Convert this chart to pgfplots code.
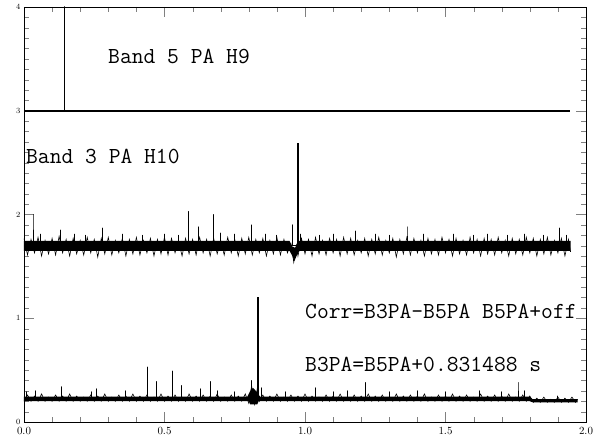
\documentclass[border=0pt]{standalone}
\usepackage{pgfplots}
\pgfplotsset{compat=1.18}
\begin{document}
\begin{tikzpicture}
\begin{axis}[
  scale only axis, width=562bp, height=415bp,
  xmin=0, xmax=2, ymin=0, ymax=4,
  xtick={0,0.5,1,1.5,2},
  ytick={0,1,2,3,4},
  minor x tick num=4, minor y tick num=9,
  tick align=inside, major tick length=10bp, minor tick length=5bp,
  xticklabel style={font=\sffamily\fontsize{10.5}{11}\selectfont, yshift=-2bp, /pgf/number format/.cd, fixed, fixed zerofill, precision=1},
  yticklabel style={font=\sffamily\fontsize{8.5}{9}\selectfont},
]
% ---------- Band 5 PA H9 ----------
\addplot[black, line width=1.6bp, line join=round] coordinates {
(0,3.0) (0.1435,3.0) (0.1435,4.0) (0.1435,3.0) (1.943,3.0)};
% ---------- Band 3 PA H10 : core ----------
\addplot[fill=black, draw=none] coordinates {
(0,1.65) (0.945,1.65) (0.955,1.60) (0.962,1.55) (0.970,1.60) (0.98,1.65) (1.945,1.65)
(1.945,1.745) (0.975,1.745) (0.965,1.68) (0.955,1.69) (0.945,1.745) (0,1.745)};
% ---------- Band 3 PA H10 : noise ----------
\addplot[black, line width=0.6bp] table {
0.0000 1.77
0.0125 1.61
0.0250 1.76
0.0375 1.63
0.0500 1.78
0.0625 1.60
0.0750 1.75
0.0875 1.62
0.1000 1.77
0.1125 1.61
0.1250 1.79
0.1375 1.63
0.1500 1.76
0.1625 1.60
0.1750 1.77
0.1875 1.62
0.2000 1.75
0.2125 1.61
0.2250 1.78
0.2375 1.63
0.2500 1.76
0.2625 1.59
0.2750 1.77
0.2875 1.62
0.3000 1.78
0.3125 1.61
0.3250 1.75
0.3375 1.63
0.3500 1.77
0.3625 1.60
0.3750 1.76
0.3875 1.62
0.4000 1.78
0.4125 1.61
0.4250 1.75
0.4375 1.63
0.4500 1.77
0.4625 1.60
0.4750 1.76
0.4875 1.62
0.5000 1.78
0.5125 1.61
0.5250 1.77
0.5375 1.63
0.5500 1.75
0.5625 1.60
0.5750 1.77
0.5875 1.62
0.6000 1.76
0.6125 1.61
0.6250 1.78
0.6375 1.63
0.6500 1.76
0.6625 1.60
0.6750 1.77
0.6875 1.62
0.7000 1.75
0.7125 1.61
0.7250 1.78
0.7375 1.63
0.7500 1.76
0.7625 1.60
0.7750 1.77
0.7875 1.62
0.8000 1.78
0.8125 1.61
0.8250 1.76
0.8375 1.63
0.8500 1.77
0.8625 1.60
0.8750 1.75
0.8875 1.62
0.9000 1.78
0.9125 1.61
0.9250 1.76
0.9375 1.63
0.9500 1.72
0.9600 1.54
0.9700 1.70
0.9750 1.60
0.9875 1.77
1.0000 1.62
1.0125 1.76
1.0250 1.60
1.0375 1.78
1.0500 1.62
1.0625 1.75
1.0750 1.61
1.0875 1.77
1.1000 1.63
1.1125 1.76
1.1250 1.60
1.1375 1.78
1.1500 1.62
1.1625 1.77
1.1750 1.61
1.1875 1.75
1.2000 1.63
1.2125 1.77
1.2250 1.60
1.2375 1.76
1.2500 1.62
1.2625 1.78
1.2750 1.61
1.2875 1.75
1.3000 1.63
1.3125 1.77
1.3250 1.59
1.3375 1.76
1.3500 1.62
1.3625 1.78
1.3750 1.61
1.3875 1.77
1.4000 1.63
1.4125 1.75
1.4250 1.60
1.4375 1.77
1.4500 1.62
1.4625 1.76
1.4750 1.61
1.4875 1.78
1.5000 1.63
1.5125 1.76
1.5250 1.60
1.5375 1.77
1.5500 1.62
1.5625 1.75
1.5750 1.61
1.5875 1.78
1.6000 1.63
1.6125 1.76
1.6250 1.60
1.6375 1.77
1.6500 1.62
1.6625 1.76
1.6750 1.61
1.6875 1.78
1.7000 1.63
1.7125 1.75
1.7250 1.60
1.7375 1.77
1.7500 1.62
1.7625 1.76
1.7750 1.61
1.7875 1.78
1.8000 1.63
1.8125 1.77
1.8250 1.60
1.8375 1.76
1.8500 1.62
1.8625 1.78
1.8750 1.61
1.8875 1.75
1.9000 1.63
1.9125 1.77
1.9250 1.60
1.9375 1.76
1.9450 1.64
};
% ---------- Band 3 spikes ----------
\addplot[black, line width=0.9bp, line join=round] coordinates {
(0.000,1.70) (0.032,1.70) (0.032,2.00) (0.032,1.70)
(0.060,1.70) (0.060,1.81) (0.060,1.70)
(0.130,1.70) (0.130,1.85) (0.130,1.70)
(0.180,1.70) (0.180,1.81) (0.180,1.70)
(0.220,1.70) (0.220,1.80) (0.220,1.70)
(0.280,1.70) (0.280,1.87) (0.280,1.70)
(0.350,1.70) (0.350,1.81) (0.350,1.70)
(0.420,1.70) (0.420,1.80) (0.420,1.70)
(0.500,1.70) (0.500,1.81) (0.500,1.70)
(0.550,1.70) (0.550,1.80) (0.550,1.70)
(0.587,1.70) (0.587,2.03) (0.587,1.70)
(0.620,1.70) (0.620,1.88) (0.620,1.70)
(0.673,1.70) (0.673,2.00) (0.673,1.70)
(0.700,1.70) (0.700,1.82) (0.700,1.70)
(0.750,1.70) (0.750,1.81) (0.750,1.70)
(0.808,1.70) (0.808,1.90) (0.808,1.70)
(0.860,1.70) (0.860,1.81) (0.860,1.70)
(0.900,1.70) (0.900,1.80) (0.900,1.70)
(0.957,1.70) (0.957,1.90) (0.957,1.70)
(0.985,1.70) (0.985,1.81) (0.985,1.70)
(1.050,1.70) (1.050,1.80) (1.050,1.70)
(1.100,1.70) (1.100,1.81) (1.100,1.70)
(1.180,1.70) (1.180,1.84) (1.180,1.70)
(1.250,1.70) (1.250,1.81) (1.250,1.70)
(1.300,1.70) (1.300,1.80) (1.300,1.70)
(1.363,1.70) (1.363,1.88) (1.363,1.70)
(1.420,1.70) (1.420,1.81) (1.420,1.70)
(1.527,1.70) (1.527,1.81) (1.527,1.70)
(1.600,1.70) (1.600,1.80) (1.600,1.70)
(1.650,1.70) (1.650,1.81) (1.650,1.70)
(1.720,1.70) (1.720,1.80) (1.720,1.70)
(1.780,1.70) (1.780,1.81) (1.780,1.70)
(1.850,1.70) (1.850,1.80) (1.850,1.70)
(1.904,1.70) (1.904,1.87) (1.904,1.70)
(1.930,1.70) (1.930,1.80) (1.930,1.70)
};
\addplot[black, line width=1.5bp] coordinates {(0.975,1.70) (0.975,2.69)};
% ---------- Corr : core ----------
\addplot[fill=black, draw=none] coordinates {
(0,0.20) (0.80,0.20) (0.805,0.17) (0.83,0.17) (0.835,0.20) (1.80,0.20) (1.81,0.19) (1.97,0.19)
(1.97,0.22) (1.81,0.22) (1.80,0.245) (0.84,0.245) (0.825,0.30) (0.815,0.33) (0.805,0.30) (0.795,0.245) (0,0.245)};
% ---------- Corr : noise ----------
\addplot[black, line width=0.6bp] table {
0.0000 0.20
0.0125 0.26
0.0250 0.20
0.0375 0.25
0.0500 0.20
0.0625 0.27
0.0750 0.20
0.0875 0.24
0.1000 0.20
0.1125 0.26
0.1250 0.20
0.1375 0.25
0.1500 0.20
0.1625 0.27
0.1750 0.20
0.1875 0.25
0.2000 0.20
0.2125 0.24
0.2250 0.20
0.2375 0.26
0.2500 0.20
0.2625 0.25
0.2750 0.20
0.2875 0.27
0.3000 0.20
0.3125 0.24
0.3250 0.20
0.3375 0.26
0.3500 0.20
0.3625 0.25
0.3750 0.20
0.3875 0.27
0.4000 0.20
0.4125 0.25
0.4250 0.20
0.4375 0.26
0.4500 0.20
0.4625 0.24
0.4750 0.20
0.4875 0.27
0.5000 0.20
0.5125 0.25
0.5250 0.20
0.5375 0.26
0.5500 0.20
0.5625 0.24
0.5750 0.20
0.5875 0.27
0.6000 0.20
0.6125 0.25
0.6250 0.20
0.6375 0.26
0.6500 0.20
0.6625 0.25
0.6750 0.20
0.6875 0.27
0.7000 0.20
0.7125 0.24
0.7250 0.20
0.7375 0.26
0.7500 0.20
0.7625 0.25
0.7750 0.20
0.7875 0.27
0.8000 0.18
0.8100 0.35
0.8200 0.17
0.8300 0.32
0.8375 0.20
0.8500 0.26
0.8625 0.20
0.8750 0.25
0.8875 0.20
0.9000 0.27
0.9125 0.20
0.9250 0.24
0.9375 0.20
0.9500 0.26
0.9625 0.20
0.9750 0.25
0.9875 0.20
1.0000 0.27
1.0125 0.20
1.0250 0.25
1.0375 0.20
1.0500 0.24
1.0625 0.20
1.0750 0.26
1.0875 0.20
1.1000 0.25
1.1125 0.20
1.1250 0.27
1.1375 0.20
1.1500 0.24
1.1625 0.20
1.1750 0.26
1.1875 0.20
1.2000 0.25
1.2125 0.20
1.2250 0.27
1.2375 0.20
1.2500 0.25
1.2625 0.20
1.2750 0.26
1.2875 0.20
1.3000 0.24
1.3125 0.20
1.3250 0.27
1.3375 0.20
1.3500 0.25
1.3625 0.20
1.3750 0.26
1.3875 0.20
1.4000 0.25
1.4125 0.20
1.4250 0.27
1.4375 0.20
1.4500 0.24
1.4625 0.20
1.4750 0.26
1.4875 0.20
1.5000 0.25
1.5125 0.20
1.5250 0.27
1.5375 0.20
1.5500 0.25
1.5625 0.20
1.5750 0.26
1.5875 0.20
1.6000 0.24
1.6125 0.20
1.6250 0.27
1.6375 0.20
1.6500 0.25
1.6625 0.20
1.6750 0.26
1.6875 0.20
1.7000 0.25
1.7125 0.20
1.7250 0.27
1.7375 0.20
1.7500 0.24
1.7625 0.20
1.7750 0.26
1.7875 0.20
1.8000 0.25
1.8125 0.19
1.8250 0.23
1.8375 0.19
1.8500 0.24
1.8625 0.19
1.8750 0.22
1.8875 0.19
1.9000 0.24
1.9125 0.19
1.9250 0.23
1.9375 0.19
1.9500 0.24
1.9625 0.19
1.9700 0.22
};
% ---------- Corr spikes ----------
\addplot[black, line width=0.9bp, line join=round] coordinates {
(0.000,0.22) (0.010,0.22) (0.010,0.29) (0.010,0.22)
(0.040,0.22) (0.040,0.30) (0.040,0.22)
(0.135,0.22) (0.135,0.34) (0.135,0.22)
(0.240,0.22) (0.240,0.29) (0.240,0.22)
(0.257,0.22) (0.257,0.32) (0.257,0.22)
(0.362,0.22) (0.362,0.30) (0.362,0.22)
(0.440,0.22) (0.440,0.53) (0.440,0.22)
(0.473,0.22) (0.473,0.39) (0.473,0.22)
(0.528,0.22) (0.528,0.49) (0.528,0.22)
(0.561,0.22) (0.561,0.35) (0.561,0.22)
(0.627,0.22) (0.627,0.32) (0.627,0.22)
(0.663,0.22) (0.663,0.39) (0.663,0.22)
(0.690,0.22) (0.690,0.30) (0.690,0.22)
(0.750,0.22) (0.750,0.29) (0.750,0.22)
(0.810,0.22) (0.810,0.40) (0.810,0.22)
(0.846,0.22) (0.846,0.33) (0.846,0.22)
(0.930,0.22) (0.930,0.29) (0.930,0.22)
(1.036,0.22) (1.036,0.33) (1.036,0.22)
(1.100,0.22) (1.100,0.29) (1.100,0.22)
(1.150,0.22) (1.150,0.30) (1.150,0.22)
(1.216,0.22) (1.216,0.38) (1.216,0.22)
(1.300,0.22) (1.300,0.29) (1.300,0.22)
(1.400,0.22) (1.400,0.30) (1.400,0.22)
(1.500,0.22) (1.500,0.29) (1.500,0.22)
(1.620,0.22) (1.620,0.30) (1.620,0.22)
(1.700,0.22) (1.700,0.29) (1.700,0.22)
(1.758,0.22) (1.758,0.38) (1.758,0.22)
(1.780,0.22) (1.780,0.30) (1.780,0.21)
(1.900,0.21) (1.900,0.25) (1.900,0.21)
};
\addplot[black, line width=1.5bp] coordinates {(0.832,0.22) (0.832,1.20)};
% ---------- texts ----------
\node[anchor=west, inner sep=0pt, font=\ttfamily\fontsize{23}{23}\selectfont] at (axis cs:0.299,3.52) {Band 5 PA H9};
\node[anchor=west, inner sep=0pt, font=\ttfamily\fontsize{23}{23}\selectfont] at (axis cs:0.007,2.56) {Band 3 PA H10};
\node[anchor=west, inner sep=0pt, font=\ttfamily\fontsize{23}{23}\selectfont] at (axis cs:1.0,1.07) {Corr=B3PA-B5PA B5PA+off};
\node[anchor=west, inner sep=0pt, font=\ttfamily\fontsize{23}{23}\selectfont] at (axis cs:1.0,0.55) {B3PA=B5PA+0.831488 s};
\end{axis}
\useasboundingbox (-24bp,-26bp) rectangle (586bp,422bp);
\end{tikzpicture}
\end{document}
